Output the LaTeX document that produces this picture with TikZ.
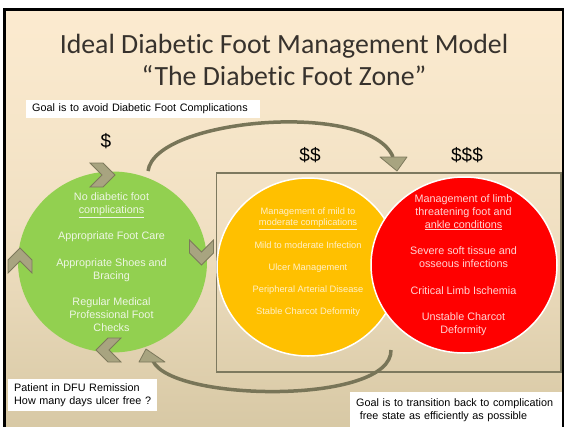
\documentclass[tikz,border=0pt]{standalone}
\usepackage{fontspec}
\setmainfont{Liberation Sans}
\newfontfamily\titlefont[Ligatures=NoCommon]{Carlito}
\usetikzlibrary{shapes.geometric}
\definecolor{bgtop}{RGB}{252,235,208}
\definecolor{bgbot}{RGB}{214,199,163}
\definecolor{gfill}{RGB}{146,208,80}
\definecolor{ofill}{RGB}{255,192,0}
\definecolor{rfill}{RGB}{255,0,0}
\definecolor{chevfill}{RGB}{168,164,128}
\definecolor{chevline}{RGB}{125,121,92}
\definecolor{arrline}{RGB}{120,117,88}
\definecolor{framecol}{RGB}{125,121,95}
\definecolor{gtext}{RGB}{238,246,228}
\definecolor{otext}{RGB}{255,240,200}
\definecolor{rtext}{RGB}{255,212,212}
\definecolor{titlecol}{RGB}{55,50,45}
\tikzset{
  chevron/.pic={\filldraw[fill=chevfill,draw=chevline,line width=0.8pt]
    (-12.5,-12) -- (0.5,-12) -- (12.5,0) -- (0.5,12) -- (-12.5,12) -- (-0.5,0) -- cycle;},
  disc/.style={ellipse,inner sep=0pt,outer sep=0pt},
  circtext/.style={align=center,inner sep=0pt},
  wbox/.style={fill=white,inner ysep=0pt,inner xsep=6pt,align=left,anchor=north west},
  money/.style={font=\fontsize{19}{22}\selectfont,inner sep=0pt},
  titletext/.style={font=\titlefont\fontsize{27.8}{31}\selectfont,text=titlecol,anchor=base,inner sep=0pt},
  curvearrow/.style={draw=arrline,line width=3.5pt},
  headstyle/.style={fill=chevfill,draw=chevline,line width=0.8pt,line join=round}
}
\begin{document}
\begin{tikzpicture}[x=1pt,y=-1pt]
\useasboundingbox (0,0) rectangle (565,426);
\fill[white] (0,0) rectangle (565,426);
% slide background
\shade[top color=bgtop,bottom color=bgbot,middle color=bgtop!70!bgbot] (4.5,9.5) rectangle (563,440);
\draw[black,line width=2.3pt] (4.5,440) -- (4.5,9.5) -- (563,9.5) -- (563,440);
% title
\node[titletext] (title1) at (284,53.5) {Ideal Diabetic Foot Management Model};
\node[titletext] (title2) at (284,85) {“The Diabetic Foot Zone”};
% frame around advanced care
\draw[framecol,line width=1.2pt] (216.5,173) rectangle (561,372);
% circles
\node[disc,fill=gfill,minimum width=189pt,minimum height=181pt] (green) at (112.5,262) {};
\node[disc,fill=ofill,draw=white,line width=1.5pt,minimum width=182pt,minimum height=178pt] (orange) at (308,267) {};
\node[disc,fill=rfill,draw=white,line width=1.5pt,minimum width=186pt,minimum height=176pt] (red) at (464,265) {};
% circle texts
\node[circtext,text=gtext,font=\fontsize{10.8}{13}\selectfont] (gtxt) at (111.5,262) {No diabetic foot\\ \underline{complications}\\[13.5pt] Appropriate Foot Care\\[13.5pt] Appropriate Shoes and\\ Bracing\\[13.5pt] Regular Medical\\ Professional Foot\\ Checks};
\node[circtext,text=otext,font=\fontsize{9.3}{11.7}\selectfont] (otxt) at (308,262) {Management of mild to\\ \underline{moderate complications}\\[10.5pt] Mild to moderate Infection\\[10.5pt] Ulcer Management\\[10.5pt] Peripheral Arterial Disease\\[10.5pt] Stable Charcot Deformity};
\node[circtext,text=rtext,font=\fontsize{10.8}{13}\selectfont] (rtxt) at (463.5,265) {Management of limb\\ threatening foot and\\ \underline{ankle conditions}\\[13.5pt] Severe soft tissue and\\ osseous infections\\[13.5pt] Critical Limb Ischemia\\[13.5pt] Unstable Charcot\\ Deformity};
% chevrons around the green circle
\pic at (102.5,175) {chevron};
\pic[rotate=-90] at (201.5,252.5) {chevron};
\pic[rotate=180] at (108.5,350) {chevron};
\pic[rotate=90] at (20,260.5) {chevron};
% cost labels
\node[money] (c1) at (106,141) {\$};
\node[money] (c2) at (310,155) {\$\$};
\node[money] (c3) at (467,155) {\$\$\$};
% curved arrows
\coordinate (a1s) at (148,171);
\coordinate (a1e) at (393,157);
\draw[curvearrow] (a1s) .. controls (155,118) and (370,100) .. (a1e);
\filldraw[headstyle] (380,157) -- (407,157) -- (397,171) -- cycle;
\coordinate (a2s) at (391,350);
\coordinate (a2e) at (153,361);
\draw[curvearrow] (a2s) .. controls (392,405) and (172,402) .. (a2e);
\filldraw[headstyle] (139,362) -- (165,362) -- (146,349) -- cycle;
% text boxes
\node[wbox,text width=222pt,minimum height=18pt,font=\fontsize{10.8}{13}\selectfont] (goal1) at (26,100) {Goal is to avoid Diabetic Foot Complications};
\node[wbox,text width=137pt,minimum height=32pt,font=\fontsize{10.8}{13.5}\selectfont] (remission) at (8,379) {Patient in DFU Remission\\ How many days ulcer free ?};
\node[wbox,text width=200pt,minimum height=36pt,font=\fontsize{10.8}{13.5}\selectfont] (goal2) at (350,392) {Goal is to transition back to complication\\ \ free state as efficiently as possible};
\end{tikzpicture}
\end{document}
